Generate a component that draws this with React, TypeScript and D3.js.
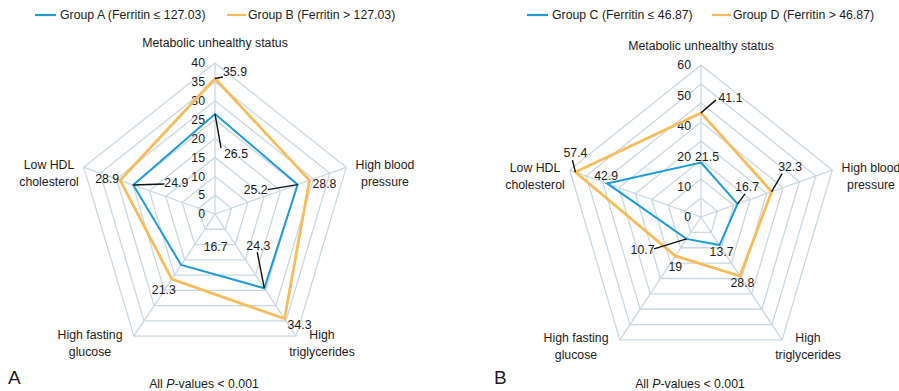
import React from 'react';
import * as d3 from 'd3';

// axes, clockwise from the top
const axisNames = [
  ['Metabolic unhealthy status'],
  ['High blood', 'pressure'],
  ['High', 'triglycerides'],
  ['High fasting', 'glucose'],
  ['Low HDL', 'cholesterol'],
];

const groupA = [26.5, 25.2, 24.3, 16.7, 24.9];
const groupB = [35.9, 28.8, 34.3, 21.3, 28.9];
const groupC = [21.5, 16.7, 13.7, 10.7, 42.9];
const groupD = [41.1, 32.3, 28.8, 19, 57.4];

const ticksA = ['0', '5', '10', '15', '20', '25', '30', '35', '40'];
const ticksB = ['0', '10', '20', '40', '50', '60'];

const legendA = ['Group A (Ferritin ≤ 127.03)', 'Group B (Ferritin > 127.03)'];
const legendB = ['Group C (Ferritin ≤ 46.87)', 'Group D (Ferritin > 46.87)'];

const BLUE = '#1f9bd7';
const ORANGE = '#f7bd5c';
const GRID = '#c9d8e1';
const INK = '#1e1b1c';
const FONT = 'Liberation Sans, Arial, sans-serif';

// where axis titles sit, relative to the centre
const titlePos = [[0, -171], [170, -44], [107, 126], [-125, 126], [-166, -44]];

// value label offsets from the vertex: [tx, ty, leaderX, leaderY] (leader optional)
const labelsA = {
  low: [[21, 40, 6, 34], [-42, 5.5, -30, 5], [-6, -43, -7, -36], [34.5, -18], [43, -2, 31, -1]],
  high: [[20, -6.5, 8, -1.5], [15, 3], [15, 6], [-8, 11], [-13, -2]],
};
const labelsB = {
  low: [[6, -6], [9.5, -17, 7.5, -10], [2, 7], [-44, 11, -32.5, 10], [-1, -8]],
  high: [[29.5, -15, 15, -13], [18.5, -25, 10.5, -18], [2.5, 7], [0, 11], [0, -19, -3, -12]],
};

const RX = 138;

function Radar({ cx, cy, ry, max, ticks, low, high, legend, legendX, labels, letter }) {
  const angle = d3.scalePoint<number>().domain(d3.range(axisNames.length)).range([0, (2 * Math.PI * 4) / 5]);
  const r = d3.scaleLinear().domain([0, max]).range([0, 1]);
  const tickPos = d3.scalePoint<string>().domain(ticks).range([0, 1]);
  const pt = (i: number, t: number): [number, number] => [
    cx + Math.sin(angle(i)!) * RX * t,
    cy - Math.cos(angle(i)!) * ry * t,
  ];
  const line = d3.line<[number, number]>().curve(d3.curveLinearClosed);
  const rings = d3.range(1, 9).map((k) => k / 8);
  const idx = d3.range(axisNames.length);

  const series = [
    { values: high, color: ORANGE, width: 2.8, labels: labels.high },
    { values: low, color: BLUE, width: 2, labels: labels.low },
  ];

  return (
    <g fontFamily={FONT} fill={INK}>
      {legend.map((name, k) => (
        <g key={name} transform={`translate(${legendX[k]},15)`}>
          <line x1={0} x2={k === 0 ? 21 : 19} stroke={k === 0 ? BLUE : ORANGE} strokeWidth={2.2} />
          <text x={k === 0 ? 25 : 21} dy="0.35em" fontSize={12.3}>{name}</text>
        </g>
      ))}
      {rings.map((t) => (
        <path key={t} d={line(idx.map((i) => pt(i, t)))!} fill="none" stroke={GRID} strokeWidth={1.3} />
      ))}
      {idx.map((i) => {
        const [x, y] = pt(i, 1);
        return <line key={i} x1={cx} y1={cy} x2={x} y2={y} stroke={GRID} strokeWidth={1.3} />;
      })}
      {ticks.map((t) => (
        <text key={t} x={cx - 10} y={cy - ry * tickPos(t)!} dy="0.35em" textAnchor="end" fontSize={12.3}>{t}</text>
      ))}
      {series.map((s) => (
        <path key={s.color} d={line(s.values.map((v, i) => pt(i, r(v))))!} fill="none" stroke={s.color} strokeWidth={s.width} />
      ))}
      {series.map((s) =>
        s.values.map((v, i) => {
          const [x, y] = pt(i, r(v));
          const o = s.labels[i];
          return (
            <g key={s.color + i}>
              {o.length > 2 && <line x1={x} y1={y} x2={x + o[2]} y2={y + o[3]} stroke="#111" strokeWidth={1.4} />}
              <text x={x + o[0]} y={y + o[1]} dy="0.35em" textAnchor="middle" fontSize={12.3}>{v}</text>
            </g>
          );
        })
      )}
      {axisNames.map((lines, i) => (
        <text key={i} x={cx + titlePos[i][0]} y={cy + titlePos[i][1]} textAnchor="middle" fontSize={12.3}>
          {lines.map((l, j) => (
            <tspan key={j} x={cx + titlePos[i][0]} dy={j === 0 ? (lines.length > 1 ? '-0.1em' : '0.35em') : '1.4em'}>{l}</tspan>
          ))}
        </text>
      ))}
      <text x={cx - 207} y={384} fontSize={19}>{letter}</text>
      <text x={cx - 11} y={388} textAnchor="middle" fontSize={12.3}>
        All <tspan fontStyle="italic">P</tspan>-values &lt; 0.001
      </text>
    </g>
  );
}

export default function App() {
  return (
    <svg width={899} height={391} style={{ position: 'absolute', left: 0, top: 0, background: '#fff' }}>
      <Radar cx={215} cy={214} ry={151} max={40} ticks={ticksA} low={groupA} high={groupB}
        legend={legendA} legendX={[35, 227]} labels={labelsA} letter="A" />
      <Radar cx={701} cy={217} ry={152} max={60} ticks={ticksB} low={groupC} high={groupD}
        legend={legendB} legendX={[527, 712]} labels={labelsB} letter="B" />
    </svg>
  );
}
